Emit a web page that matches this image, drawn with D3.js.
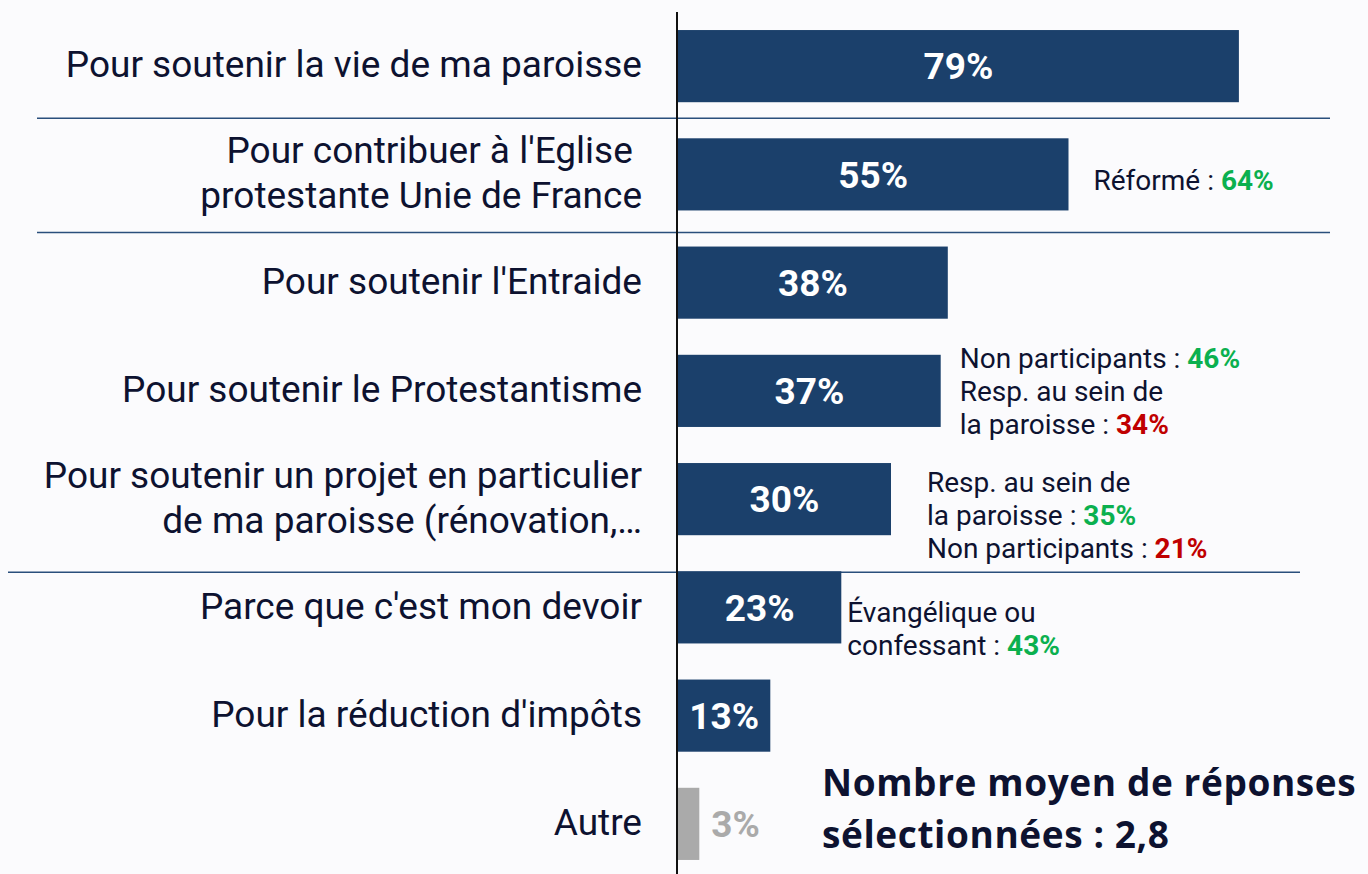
<!DOCTYPE html>
<html lang="fr">
<head>
<meta charset="UTF-8">
<title>Raisons du don</title>
<script src="https://d3js.org/d3.v7.min.js"></script>
<style>
  html, body { margin: 0; padding: 0; background: #fbfbfd; }
  body { font-family: Roboto, "Noto Sans", sans-serif; }
  svg { display: block; }
</style>
</head>
<body>
<script>
// Data
const categories = [
  "Pour soutenir la vie de ma paroisse",
  "Pour contribuer à l'Eglise \nprotestante Unie de France",
  "Pour soutenir l'Entraide",
  "Pour soutenir le Protestantisme",
  "Pour soutenir un projet en particulier\nde ma paroisse (rénovation,…",
  "Parce que c'est mon devoir",
  "Pour la réduction d'impôts",
  "Autre"
];
const values = [79, 55, 38, 37, 30, 23, 13, 3];
const isOther = [false, false, false, false, false, false, false, true];

// annotation lines per category: segments [text, tone] (tone: "", "up", "down")
const notes = [
  null,
  [[["Réformé : ", ""], ["64%", "up"]]],
  null,
  [[["Non participants : ", ""], ["46%", "up"]],
   [["Resp. au sein de", ""]],
   [["la paroisse : ", ""], ["34%", "down"]]],
  [[["Resp. au sein de", ""]],
   [["la paroisse : ", ""], ["35%", "up"]],
   [["Non participants : ", ""], ["21%", "down"]]],
  [[["Évangélique ou", ""]],
   [["confessant : ", ""], ["43%", "up"]]],
  null,
  null
];
const summary = ["Nombre moyen de réponses", "sélectionnées : 2,8"];

// Layout
const W = 1368, H = 874;
const x0 = 678;
const noteOffset = { 1: [25, 6], 3: [19, 0], 4: [36, 16], 5: [6, 21] };
const separators = [ // after category index, y shift from next band top, x extent
  { after: 0, dy: -20, x1: 37, x2: 1330 },
  { after: 1, dy: -14, x1: 37, x2: 1330 },
  { after: 4, dy: 1, x1: 8, x2: 1300 }
];
const ink = "#0d1230";
const toneColor = { "": ink, up: "#0bb04f", down: "#c00000" };

const svg = d3.select("body").append("svg")
  .attr("width", W).attr("height", H);

const x = d3.scaleLinear().domain([0, 100]).range([x0, x0 + 710]);
const y = d3.scaleBand().domain(d3.range(categories.length))
  .range([12, 878]).paddingInner(1 / 3).paddingOuter(1 / 6);

// separators
svg.selectAll(".sep").data(separators).enter().append("line")
  .attr("x1", d => d.x1).attr("x2", d => d.x2)
  .attr("y1", d => y(d.after + 1) + d.dy).attr("y2", d => y(d.after + 1) + d.dy)
  .attr("stroke", "#2a4f7c").attr("stroke-width", 1.5);

// bars
svg.selectAll(".bar").data(values).enter().append("rect")
  .attr("x", x(0))
  .attr("y", (d, i) => y(i))
  .attr("width", d => x(d) - x(0))
  .attr("height", y.bandwidth())
  .attr("fill", (d, i) => isOther[i] ? "#aaaaaa" : "#1b406b");

// value labels
svg.selectAll(".val").data(values).enter().append("text")
  .attr("x", (d, i) => isOther[i] ? x(d) + 12 : (x(0) + x(d)) / 2)
  .attr("y", (d, i) => y(i) + y.bandwidth() / 2)
  .attr("dy", "0.36em")
  .attr("text-anchor", (d, i) => isOther[i] ? "start" : "middle")
  .attr("fill", (d, i) => isOther[i] ? "#aaaaaa" : "#ffffff")
  .style("font-size", "37px").style("font-weight", 700)
  .text(d => d + "%");

// category labels
categories.forEach((c, i) => {
  const lines = c.split("\n");
  const cy = y(i) + y.bandwidth() / 2;
  const t = svg.append("text")
    .attr("text-anchor", "end")
    .attr("fill", ink)
    .style("font-size", "37px");
  lines.forEach((l, k) => {
    t.append("tspan")
      .attr("x", 642)
      .attr("y", cy + (k - (lines.length - 1) / 2) * 45 - 2)
      .attr("dy", "0.36em")
      .text(l);
  });
});

// axis line
svg.append("line")
  .attr("x1", x0 - 1).attr("x2", x0 - 1)
  .attr("y1", 12).attr("y2", H)
  .attr("stroke", "#111111").attr("stroke-width", 2);

// annotations
notes.forEach((n, i) => {
  if (!n) return;
  const [dx, dy] = noteOffset[i];
  const cy = y(i) + y.bandwidth() / 2 + dy;
  n.forEach((line, k) => {
    const t = svg.append("text")
      .attr("x", x(values[i]) + dx)
      .attr("y", cy + (k - (n.length - 1) / 2) * 33)
      .attr("dy", "0.36em")
      .style("font-size", "28px");
    line.forEach(([s, tone]) => {
      t.append("tspan")
        .attr("fill", toneColor[tone])
        .style("font-weight", tone ? 700 : 400)
        .text(s);
    });
  });
});

// summary text
svg.selectAll(".sum").data(summary).enter().append("text")
  .attr("x", 822)
  .attr("y", (d, i) => 783 + i * 52)
  .attr("dy", "0.36em")
  .attr("fill", ink)
  .style("font-family", "'Open Sans', Roboto, sans-serif")
  .style("font-size", "37px").style("font-weight", 700)
  .style("letter-spacing", "0.6px")
  .text(d => d);
</script>
</body>
</html>
